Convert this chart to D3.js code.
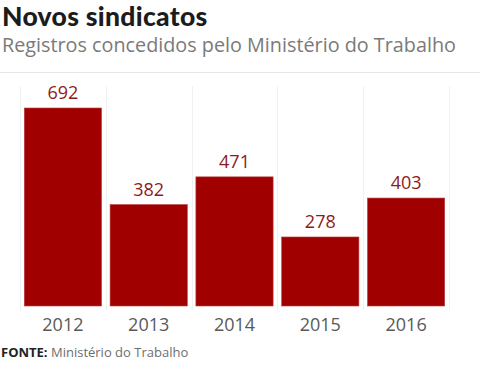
<!DOCTYPE html>
<html>
<head>
<meta charset="utf-8">
<title>Novos sindicatos</title>
<style>
body { margin: 0; background: #ffffff; font-family: 'Open Sans', sans-serif; }
.band { stroke: #f1f1f1; stroke-width: 1px; shape-rendering: crispEdges; }
.bar { fill: #a10000; stroke: #b84040; stroke-width: 0.6px; }
.val { fill: #8e1b1b; font-size: 18px; text-anchor: middle; }
.year { fill: #595959; font-size: 18px; text-anchor: middle; }
</style>
</head>
<body>
<script src="https://d3js.org/d3.v7.min.js"></script>
<script>
'use strict';
const years = ['2012', '2013', '2014', '2015', '2016'];
const registros = [692, 382, 471, 278, 403];

const W = 480, H = 366;
const baseline = 306;

const svg = d3.select('body').append('svg')
	.attr('width', W)
	.attr('height', H);

// titles
svg.append('text')
	.attr('x', 2).attr('y', 26)
	.style('font-family', 'Lato, sans-serif')
	.style('font-weight', 900)
	.style('font-size', '26.5px')
	.style('letter-spacing', '0.3px')
	.style('fill', '#1c1c1c')
	.text('Novos sindicatos');

svg.append('text')
	.attr('x', 2).attr('y', 52)
	.style('font-size', '19.8px')
	.style('fill', '#7a7a7a')
	.text('Registros concedidos pelo Ministério do Trabalho');

svg.append('line')
	.attr('x1', 0).attr('x2', W)
	.attr('y1', 72.5).attr('y2', 72.5)
	.style('stroke', '#e6e6e6');

// scales
const x = d3.scaleBand()
	.domain(years)
	.range([20, 449])
	.paddingInner(0.1)
	.paddingOuter(0.05);

const y = d3.scaleLinear()
	.domain([0, 692])
	.range([323.6, 108]);

// faint band separators
const step = x.step();
svg.selectAll('line.band')
	.data(d3.range(years.length + 1))
	.enter().append('line')
	.attr('class', 'band')
	.attr('x1', i => Math.round(20 + i * step) + 0.5)
	.attr('x2', i => Math.round(20 + i * step) + 0.5)
	.attr('y1', 86).attr('y2', 310);

// bars
svg.selectAll('rect.bar')
	.data(registros)
	.enter().append('rect')
	.attr('class', 'bar')
	.attr('x', (d, i) => x(years[i]))
	.attr('width', x.bandwidth())
	.attr('y', d => y(d))
	.attr('height', d => baseline - y(d));

// values
svg.selectAll('text.val')
	.data(registros)
	.enter().append('text')
	.attr('class', 'val')
	.attr('x', (d, i) => x(years[i]) + x.bandwidth() / 2)
	.attr('y', d => y(d) - 9)
	.text(d => d);

// x axis labels
svg.selectAll('text.year')
	.data(years)
	.enter().append('text')
	.attr('class', 'year')
	.attr('x', d => x(d) + x.bandwidth() / 2)
	.attr('y', 331)
	.text(d => d);

// source
const src = svg.append('text')
	.attr('x', 1).attr('y', 357)
	.style('font-size', '13px');
src.append('tspan').style('font-weight', 700).style('fill', '#222').text('FONTE: ');
src.append('tspan').style('fill', '#6e6e6e').text('Ministério do Trabalho');
</script>
</body>
</html>
